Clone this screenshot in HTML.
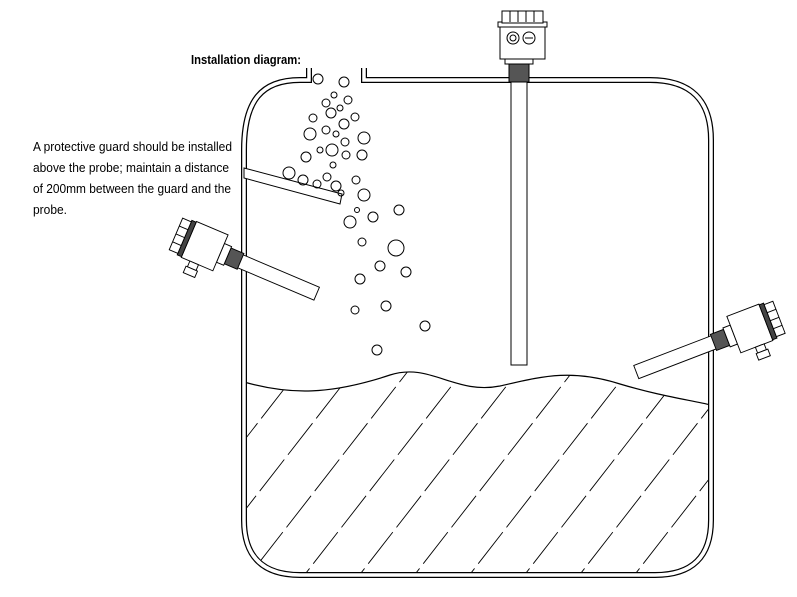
<!DOCTYPE html>
<html><head><meta charset="utf-8"><style>body{margin:0;background:#fff}svg{display:block}</style></head>
<body>
<svg width="797" height="597" viewBox="0 0 797 597" xmlns="http://www.w3.org/2000/svg" font-family="Liberation Sans, sans-serif">
<defs>
<clipPath id="liq"><path d="M244 382 C290 395,330 395,390 375 C430 362,455 395,500 386 C540 377,570 368,620 384 C660 396,690 400,711 405 V520 Q711 575 655 575 H300 Q244 575 244 520 Z"/></clipPath>
<g id="probe" stroke="#000" stroke-width="1.2" fill="#fff">
  <rect x="-4" y="-9" width="108" height="18"/>
  <rect x="-20" y="-11" width="18" height="22" fill="#555"/>
  <rect x="-30" y="-13" width="10" height="26"/>
  <rect x="-74" y="-25" width="44" height="50"/>
  <rect x="-80" y="-24" width="6" height="48" fill="#444"/>
  <rect x="-92" y="-22" width="12" height="44"/>
  <line x1="-92" y1="-11" x2="-80" y2="-11"/><line x1="-92" y1="0" x2="-80" y2="0"/><line x1="-92" y1="11" x2="-80" y2="11"/>
  <rect x="-62" y="25" width="12" height="8"/>
  <rect x="-64" y="33" width="16" height="9"/>
</g>
</defs>
<g clip-path="url(#liq)" stroke="#000" stroke-width="0.9" stroke-dasharray="40 6">
  <line x1="120" y1="600" x2="330" y2="330"/><line x1="175" y1="600" x2="385" y2="330"/>
  <line x1="230" y1="600" x2="440" y2="330"/><line x1="285" y1="600" x2="495" y2="330"/>
  <line x1="340" y1="600" x2="550" y2="330"/><line x1="395" y1="600" x2="605" y2="330"/>
  <line x1="450" y1="600" x2="660" y2="330"/><line x1="505" y1="600" x2="715" y2="330"/>
  <line x1="560" y1="600" x2="770" y2="330"/><line x1="615" y1="600" x2="825" y2="330"/>
  <line x1="670" y1="600" x2="880" y2="330"/><line x1="65" y1="600" x2="275" y2="330"/>
</g>
<path d="M244 382 C290 395,330 395,390 375 C430 362,455 395,500 386 C540 377,570 368,620 384 C660 396,690 400,711 405" fill="none" stroke="#000" stroke-width="1.2"/>
<path d="M309 68 V80 H300 C262 80 244 100 244 150 V520 Q244 575 300 575 H655 Q711 575 711 520 V140 Q711 80 650 80 H364 V68" fill="none" stroke="#000" stroke-width="6"/>
<path d="M309 68 V80 H300 C262 80 244 100 244 150 V520 Q244 575 300 575 H655 Q711 575 711 520 V140 Q711 80 650 80 H364 V68" fill="none" stroke="#fff" stroke-width="3.5"/>
<polygon points="244,168 342,194 340,204 244,178" fill="#fff" stroke="#000" stroke-width="1"/>
<g fill="none" stroke="#000" stroke-width="1">
<circle cx="318" cy="79" r="5"/><circle cx="344" cy="82" r="5"/><circle cx="334" cy="95" r="3"/><circle cx="326" cy="103" r="4"/><circle cx="348" cy="100" r="4"/><circle cx="340" cy="108" r="3"/><circle cx="331" cy="113" r="5"/><circle cx="313" cy="118" r="4"/><circle cx="355" cy="117" r="4"/><circle cx="344" cy="124" r="5"/><circle cx="310" cy="134" r="6"/><circle cx="336" cy="134" r="3"/><circle cx="326" cy="130" r="4"/><circle cx="364" cy="138" r="6"/><circle cx="320" cy="150" r="3"/><circle cx="345" cy="142" r="4"/><circle cx="332" cy="150" r="6"/><circle cx="346" cy="155" r="4"/><circle cx="306" cy="157" r="5"/><circle cx="362" cy="155" r="5"/><circle cx="333" cy="165" r="3"/><circle cx="289" cy="173" r="6"/><circle cx="303" cy="180" r="5"/><circle cx="317" cy="184" r="4"/><circle cx="327" cy="177" r="4"/><circle cx="336" cy="186" r="5"/><circle cx="356" cy="180" r="4"/><circle cx="341" cy="193" r="3"/><circle cx="364" cy="195" r="6"/><circle cx="357" cy="210" r="2.5"/><circle cx="350" cy="222" r="6"/><circle cx="373" cy="217" r="5"/><circle cx="399" cy="210" r="5"/><circle cx="362" cy="242" r="4"/><circle cx="396" cy="248" r="8"/><circle cx="380" cy="266" r="5"/><circle cx="406" cy="272" r="5"/><circle cx="360" cy="279" r="5"/><circle cx="386" cy="306" r="5"/><circle cx="355" cy="310" r="4"/><circle cx="425" cy="326" r="5"/><circle cx="377" cy="350" r="5"/>
</g>
<g stroke="#000" stroke-width="1" fill="#fff">
  <rect x="511" y="80" width="16" height="285"/>
  <rect x="509" y="62" width="20" height="20" fill="#555"/>
  <rect x="505" y="58" width="28" height="6"/>
  <rect x="500" y="25" width="45" height="34"/>
  <rect x="498" y="22" width="49" height="5"/>
  <rect x="502" y="11" width="41" height="12"/>
  <line x1="510" y1="11" x2="510" y2="22"/><line x1="518" y1="11" x2="518" y2="22"/><line x1="526" y1="11" x2="526" y2="22"/><line x1="534" y1="11" x2="534" y2="22"/>
  <circle cx="513" cy="38" r="6"/><circle cx="513" cy="38" r="3"/>
  <circle cx="529" cy="38" r="6"/><line x1="525" y1="38" x2="533" y2="38"/>
</g>
<use href="#probe" transform="translate(242,262) rotate(23) scale(0.78)"/>
<use href="#probe" transform="translate(712,343) scale(-1,1) rotate(21) scale(0.78)"/>
<text x="191" y="64" font-size="13" font-weight="bold" textLength="110" lengthAdjust="spacingAndGlyphs">Installation diagram:</text>
<g font-size="12.5">
<text x="33" y="151" textLength="199" lengthAdjust="spacingAndGlyphs">A protective guard should be installed</text>
<text x="33" y="172" textLength="196" lengthAdjust="spacingAndGlyphs">above the probe; maintain a distance</text>
<text x="33" y="193" textLength="198" lengthAdjust="spacingAndGlyphs">of 200mm between the guard and the</text>
<text x="33" y="214" textLength="34" lengthAdjust="spacingAndGlyphs">probe.</text>
</g>
</svg>
</body></html>
